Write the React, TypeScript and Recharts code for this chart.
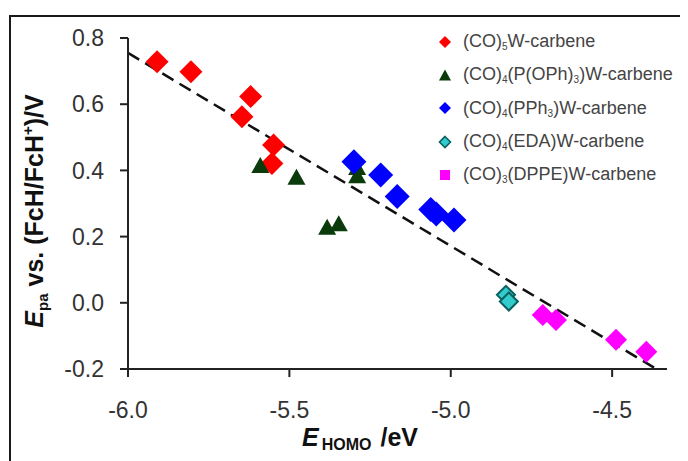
import React from 'react';
import {
  ScatterChart,
  Scatter,
  XAxis,
  YAxis,
  ReferenceLine,
} from 'recharts';

// E_HOMO (eV) vs. E_pa (V) per complex family
const pentacarbonylX = [-5.91, -5.805, -5.62, -5.647, -5.549, -5.554];
const pentacarbonylY = [0.728, 0.698, 0.623, 0.562, 0.477, 0.421];

const phosphiteX = [-5.59, -5.478, -5.29, -5.29, -5.383, -5.347];
const phosphiteY = [0.416, 0.381, 0.41, 0.385, 0.23, 0.24];

const phosphineX = [-5.3, -5.217, -5.166, -5.062, -5.045, -4.99];
const phosphineY = [0.426, 0.386, 0.321, 0.282, 0.268, 0.25];

const edaX = [-4.829, -4.82];
const edaY = [0.024, 0.004];

const dppeX = [-4.715, -4.674, -4.488, -4.394];
const dppeY = [-0.037, -0.052, -0.112, -0.148];

// trend line end points
const fitX = [-6.0, -4.363];
const fitY = [0.755, -0.2];

const xTicks = [-6.0, -5.5, -5.0, -4.5];
const yTicks = [-0.2, 0.0, 0.2, 0.4, 0.6, 0.8];

const zip = (xs: number[], ys: number[]) => xs.map((x, i) => ({ x, y: ys[i] }));

const font = '"Liberation Sans", Arial, sans-serif';

const diamond = (r: number, fill: string, stroke = 'none') => (props: any) => {
  const { cx, cy } = props;
  return (
    <polygon
      points={`${cx},${cy - r} ${cx + r},${cy} ${cx},${cy + r} ${cx - r},${cy}`}
      fill={fill}
      stroke={stroke}
      strokeWidth={stroke === 'none' ? 0 : 2}
    />
  );
};

const triangle = (w: number, h: number, fill: string) => (props: any) => {
  const { cx, cy } = props;
  return (
    <polygon
      points={`${cx},${cy - h / 2} ${cx + w / 2},${cy + h / 2} ${cx - w / 2},${cy + h / 2}`}
      fill={fill}
    />
  );
};

const legendRows = [
  { color: '#ff0000', mark: 'diamond', parts: ['(CO)', '5', 'W-carbene'] },
  { color: '#0b3a0b', mark: 'triangle', parts: ['(CO)', '4', '(P(OPh)', '3', ')W-carbene'] },
  { color: '#0000ff', mark: 'diamond', parts: ['(CO)', '4', '(PPh', '3', ')W-carbene'] },
  { color: '#33cccc', mark: 'diamondOutline', parts: ['(CO)', '4', '(EDA)W-carbene'] },
  { color: '#ff00ff', mark: 'square', parts: ['(CO)', '3', '(DPPE)W-carbene'] },
];

function LegendMark({ mark, color }: { mark: string; color: string }) {
  return (
    <svg width={14} height={14} style={{ display: 'block' }}>
      {mark === 'diamond' && <polygon points="7,1 13,7 7,13 1,7" fill={color} />}
      {mark === 'diamondOutline' && (
        <polygon points="7,1.5 12.5,7 7,12.5 1.5,7" fill={color} stroke="#0a6060" strokeWidth={1.6} />
      )}
      {mark === 'triangle' && <polygon points="7,1.5 13,12.5 1,12.5" fill={color} />}
      {mark === 'square' && <rect x={2} y={2} width={10} height={10} fill={color} />}
    </svg>
  );
}

export default function App() {
  return (
    <div style={{ position: 'relative', width: 680, height: 453, fontFamily: font }}>
      <div
        style={{
          position: 'absolute',
          left: 1,
          top: 7,
          width: 674,
          height: 460,
          borderTop: '2px solid #1a1a1a',
          borderLeft: '2px solid #1a1a1a',
          borderRight: '1px solid #999',
        }}
      />
      <ScatterChart
        width={680}
        height={453}
        margin={{ top: 30, right: 21, bottom: 52, left: 0 }}
        style={{ position: 'absolute', left: 0, top: 0 }}
      >
        <XAxis
          type="number"
          dataKey="x"
          domain={[-6.0, -4.33]}
          ticks={xTicks}
          allowDataOverflow
          tickFormatter={(v: number) => v.toFixed(1)}
          axisLine={{ stroke: '#222', strokeWidth: 2 }}
          tickLine={{ stroke: '#222', strokeWidth: 2 }}
          tickSize={8}
          tickMargin={25}
          height={40}
          tick={{ fill: '#333', fontSize: 23, fontFamily: font }}
        />
        <YAxis
          type="number"
          dataKey="y"
          domain={[-0.2, 0.8]}
          ticks={yTicks}
          allowDataOverflow
          tickFormatter={(v: number) => v.toFixed(1)}
          axisLine={{ stroke: '#222', strokeWidth: 2 }}
          tickLine={{ stroke: '#222', strokeWidth: 2 }}
          tickSize={8}
          tickMargin={16}
          width={120}
          tick={{ fill: '#333', fontSize: 23, fontFamily: font }}
        />
        <ReferenceLine
          segment={zip(fitX, fitY)}
          stroke="#111"
          strokeWidth={2.5}
          strokeDasharray="13 7"
          ifOverflow="extendDomain"
        />
        <Scatter data={zip(pentacarbonylX, pentacarbonylY)} shape={diamond(11.5, '#ff0000')} isAnimationActive={false} />
        <Scatter data={zip(phosphiteX, phosphiteY)} shape={triangle(18, 16, '#0b3a0b')} isAnimationActive={false} />
        <Scatter data={zip(phosphineX, phosphineY)} shape={diamond(12.5, '#0000ff')} isAnimationActive={false} />
        <Scatter data={zip(edaX, edaY)} shape={diamond(9, '#33cccc', '#0a6060')} isAnimationActive={false} />
        <Scatter data={zip(dppeX, dppeY)} shape={diamond(11, '#ff00ff')} isAnimationActive={false} />
      </ScatterChart>

      {/* legend */}
      <div style={{ position: 'absolute', left: 430, top: 17, color: '#444', fontSize: 18 }}>
        {legendRows.map((row, i) => (
          <div key={i} style={{ display: 'flex', alignItems: 'center', height: 33.3 }}>
            <LegendMark mark={row.mark} color={row.color} />
            <span style={{ marginLeft: 11, whiteSpace: 'nowrap' }}>
              {row.parts.map((p, j) =>
                j % 2 === 1 ? (
                  <sub key={j} style={{ fontSize: 10, verticalAlign: '-3px' }}>
                    {p}
                  </sub>
                ) : (
                  <span key={j}>{p}</span>
                )
              )}
            </span>
          </div>
        ))}
      </div>

      {/* axis titles */}
      <svg width={680} height={453} style={{ position: 'absolute', left: 0, top: 0, pointerEvents: 'none' }}>
        <text
          transform="translate(35,203) rotate(-90)"
          textAnchor="middle"
          fontFamily={font}
          fontWeight="bold"
          fontSize={25}
          fill="#111"
        >
          <tspan fontStyle="italic">E</tspan>
          <tspan fontSize={15} dy={5}>pa</tspan>
          <tspan dy={-5}> vs. (FcH/FcH</tspan>
          <tspan fontSize={15} dy={-10}>+</tspan>
          <tspan dy={10}>)/V</tspan>
        </text>
        <text x={352} y={438} textAnchor="middle" fontFamily={font} fontWeight="bold" fontSize={25} fill="#111">
          <tspan fontStyle="italic">E</tspan>
          <tspan fontSize={16} dy={4} dx={3}>HOMO</tspan>
          <tspan dy={-4} dx={2}> /eV</tspan>
        </text>
      </svg>
    </div>
  );
}
